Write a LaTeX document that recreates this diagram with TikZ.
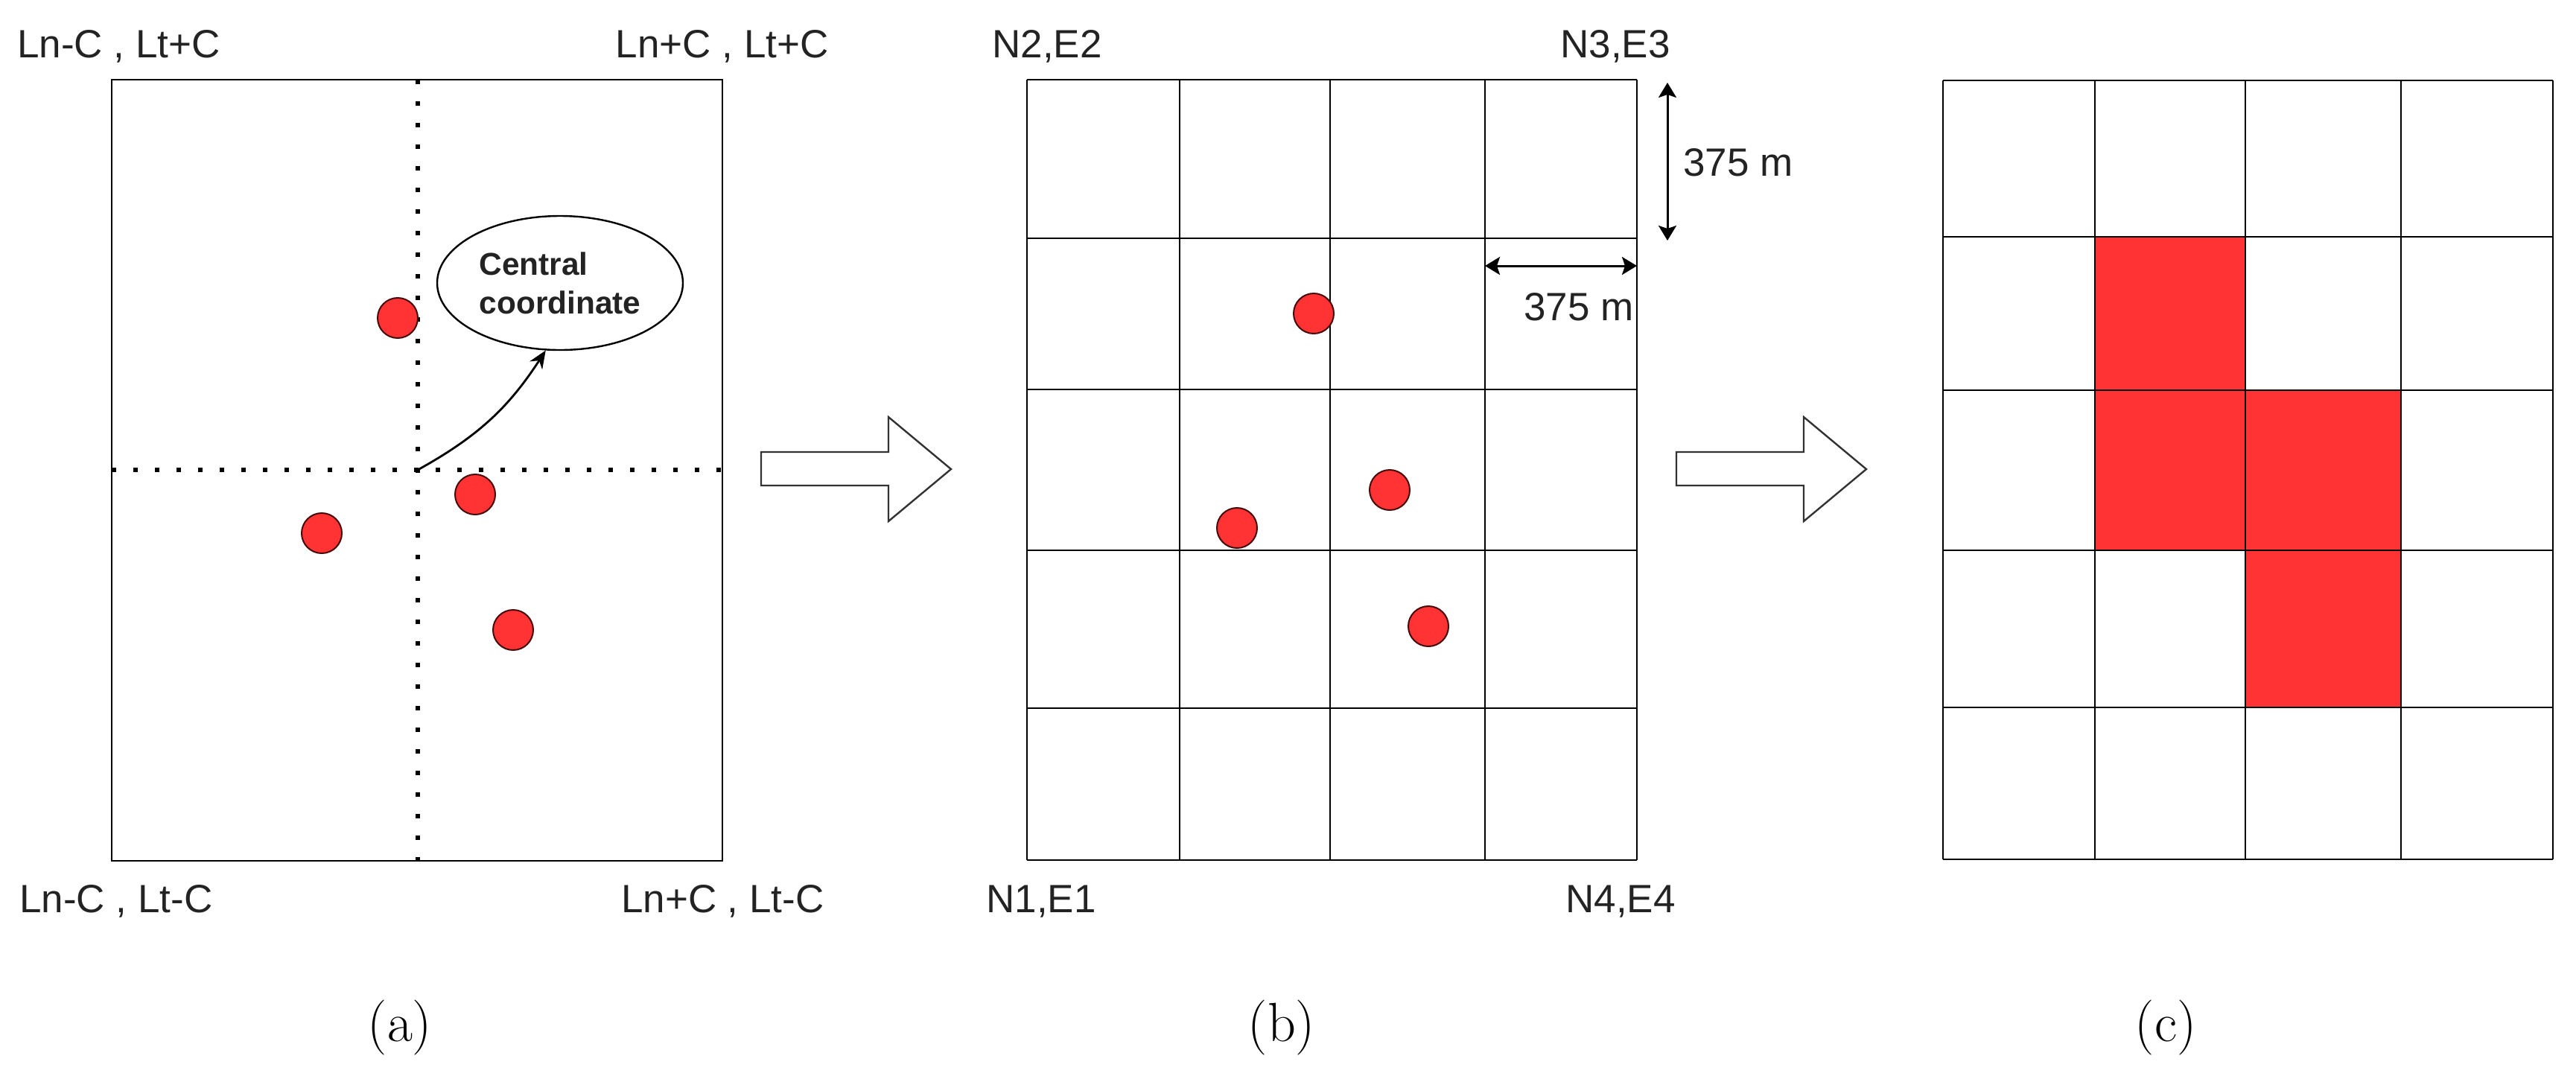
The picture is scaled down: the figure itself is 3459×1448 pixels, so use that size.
\documentclass[tikz,border=0pt]{standalone}
\usepackage{fontspec}
\newfontfamily\labfont{Liberation Sans}
\usetikzlibrary{arrows.meta,shapes.geometric}
\definecolor{redfill}{RGB}{255,51,51}
\definecolor{dotedge}{RGB}{70,10,10}
\definecolor{labgray}{RGB}{35,35,35}
\tikzset{
  frame/.style={draw=black, line width=1.4pt},
  gridline/.style={draw=black, line width=1.4pt},
  dotline/.style={draw=black, line width=2.8pt, dash pattern=on 2.8pt off 11.7pt},
  reddot/.style={circle, draw=dotedge, fill=redfill, line width=1pt, minimum size=27pt, inner sep=0pt},
  lbl/.style={font=\labfont\fontsize{26.5}{30}\selectfont, text=labgray, inner sep=0pt},
  captext/.style={font=\fontsize{37}{40}\selectfont, inner sep=0pt},
  blockarrow/.style={draw=black!80, line width=1.2pt, fill=white, line join=miter},
  dimarrow/.style={{Stealth[length=10pt,width=12pt,inset=2pt]}-{Stealth[length=10pt,width=12pt,inset=2pt]}, line width=1.5pt, black},
  bubble/.style={ellipse, draw=black, line width=1.2pt, fill=white, minimum width=165pt, minimum height=90pt, inner sep=0pt,
     align=left, font=\labfont\bfseries\fontsize{21.2}{26}\selectfont, text=labgray}
}
\begin{document}
\begin{tikzpicture}[x=0.5pt,y=-0.5pt]
\useasboundingbox (0,0) rectangle (3459,1448);

% ---------- panel (a)
\draw[frame] (150,107) rectangle (970,1156);
\draw[dotline] (561,107) -- (561,1156);
\draw[dotline] (150,631) -- (970,631);
\coordinate (ctr) at (561,631);

\node[lbl, anchor=base west] (la1) at (23,77) {Ln-C , Lt+C};
\node[lbl, anchor=base east] (la2) at (1113,77) {Ln+C , Lt+C};
\node[lbl, anchor=base west] (la3) at (26,1225) {Ln-C , Lt-C};
\node[lbl, anchor=base east] (la4) at (1107,1225) {Ln+C , Lt-C};

\node[reddot] (a1) at (534,427) {};
\node[reddot] (a2) at (638,664) {};
\node[reddot] (a3) at (432,716) {};
\node[reddot] (a4) at (689,846) {};

\node[bubble] (ell) at (752,380) {Central\\coordinate};
\draw[line width=1.4pt, -{Stealth[length=12pt,width=10pt]}] (ctr) to[bend right=14] (ell.258);

\node[captext] (capa) at (537,1380) {(a)};

% ---------- arrow a -> b
\draw[blockarrow] (1022,607) -- (1193,607) -- (1193,560) -- (1277,630) -- (1193,700) -- (1193,652) -- (1022,652) -- cycle;

% ---------- panel (b)
\foreach \x in {1379,1584,1786,1994,2198} \draw[gridline] (\x,107) -- (\x,1155);
\foreach \y in {107,320,523,739,951,1155} \draw[gridline] (1379,\y) -- (2198,\y);

\node[lbl, anchor=base west] (lb1) at (1332,77) {N2,E2};
\node[lbl, anchor=base east] (lb2) at (2243,77) {N3,E3};
\node[lbl, anchor=base west] (lb3) at (1324,1225) {N1,E1};
\node[lbl, anchor=base east] (lb4) at (2250,1225) {N4,E4};

\node[reddot] (b1) at (1764,421) {};
\node[reddot] (b2) at (1866,658) {};
\node[reddot] (b3) at (1661,709) {};
\node[reddot] (b4) at (1918,841) {};

\coordinate (vt) at (2239,111);
\coordinate (vb) at (2239,323);
\draw[dimarrow] (vt) -- (vb);
\node[lbl, anchor=base west] (m1) at (2260,236) {375 m};
\coordinate (hl) at (1994,357);
\coordinate (hr) at (2198,357);
\draw[dimarrow] (hl) -- (hr);
\node[lbl, anchor=base west] (m2) at (2046,430) {375 m};

\node[captext] (capb) at (1721,1380) {(b)};

% ---------- arrow b -> c
\draw[blockarrow] (2251,607) -- (2422,607) -- (2422,560) -- (2506,630) -- (2422,700) -- (2422,652) -- (2251,652) -- cycle;

% ---------- panel (c)
\fill[redfill] (2813,318) rectangle (3015,524);
\fill[redfill] (2813,524) rectangle (3224,739);
\fill[redfill] (3015,739) rectangle (3224,950);
\foreach \x in {2609,2813,3015,3224,3428} \draw[gridline] (\x,108) -- (\x,1154);
\foreach \y in {108,318,524,739,950,1154} \draw[gridline] (2609,\y) -- (3428,\y);

\node[captext] (capc) at (2908,1380) {(c)};
\end{tikzpicture}
\end{document}
